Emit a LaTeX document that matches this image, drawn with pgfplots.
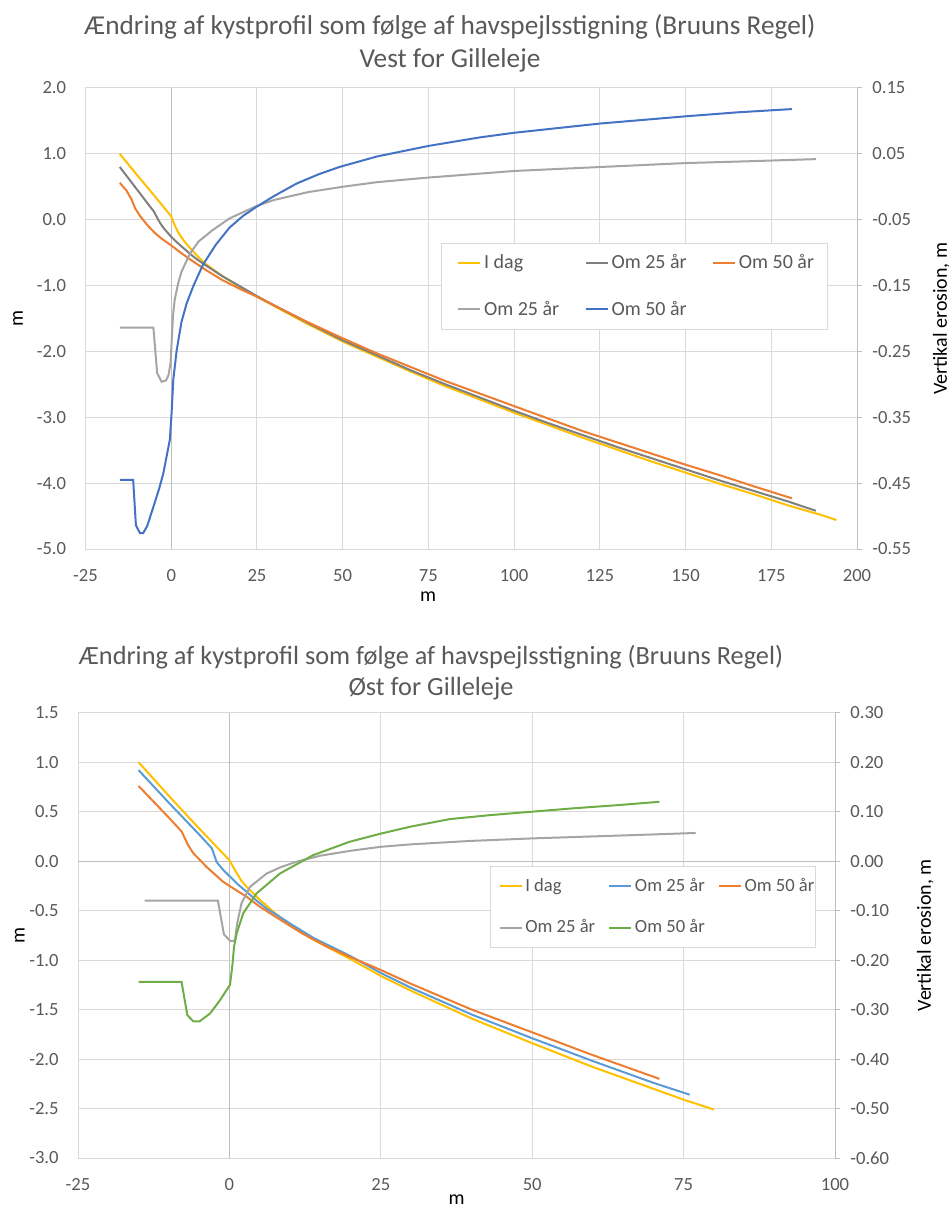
\documentclass[border=0pt]{standalone}
\usepackage{pgfplots}
\pgfplotsset{compat=1.18}
\usepackage{fontspec}
\setmainfont{Carlito}
\definecolor{cyellow}{HTML}{FFC000}
\definecolor{cdgray}{HTML}{7F7F7F}
\definecolor{corange}{HTML}{ED7D31}
\definecolor{clgray}{HTML}{A5A5A5}
\definecolor{cblue}{HTML}{4472C4}
\definecolor{clblue}{HTML}{5B9BD5}
\definecolor{cgreen}{HTML}{70AD47}
\definecolor{ctext}{HTML}{595959}
\definecolor{cgrid}{HTML}{D9D9D9}
\definecolor{caxis}{HTML}{BFBFBF}
\pgfplotsset{
  base/.style={scale only axis, axis line style={draw=none}, major tick length=0pt,
    tick label style={text=ctext, inner sep=0pt},
    label style={text=ctext},
    every axis plot/.append style={line width=1pt, mark=none},
    legend image code/.code={\draw[##1] (0pt,0pt) -- (11pt,0pt);},
  },
  leftax/.style={base, grid=major, major grid style={draw=cgrid, line width=0.5pt},
    yticklabel style={anchor=east, xshift=-9.5pt},
    xticklabel style={anchor=north, yshift=-10pt},
  },
  rightax/.style={base, grid=none, axis y line*=right, axis x line=none, xtick=\empty,
    y axis line style={draw=caxis, line width=0.5pt},
    ytick style={draw=caxis, line width=0.5pt}, tick align=outside, major tick length=2.5pt,
    yticklabel style={anchor=west, xshift=5pt},
  },
}
\begin{document}
\begin{tikzpicture}
\useasboundingbox (0,0) rectangle (475.5pt,-604pt);
% ---------------- Chart 1 -----------------
\node[text=ctext, align=center, font=\fontsize{13.65}{16.5}\selectfont] at (225pt,-21.75pt)
  {Ændring af kystprofil som følge af havspejlsstigning (Bruuns Regel)\\Vest for Gilleleje};
\begin{axis}[leftax, at={(42.75pt,-274.5pt)}, anchor=south west,
  width=385.75pt, height=230.5pt,
  xmin=-25, xmax=200, ymin=-5, ymax=2,
  xtick={-25,0,25,50,75,100,125,150,175,200}, ytick={-5,-4,-3,-2,-1,0,1,2},
  yticklabels={-5.0,-4.0,-3.0,-2.0,-1.0,0.0,1.0,2.0},
  xticklabels={-25,0,25,50,75,100,125,150,175,200},
  tick label style={font=\fontsize{9.3}{11}\selectfont},
  xlabel={m}, ylabel={m},
  label style={font=\fontsize{10}{12}\selectfont},
  every axis x label/.style={at={(axis description cs:0.444,-0.104)}, anchor=center},
  every axis y label/.style={at={(axis description cs:-0.0875,0.5)}, rotate=90, anchor=center},
]
\draw[caxis, line width=0.5pt] (axis cs:0,-5) -- (axis cs:0,2);
\addplot[cyellow] coordinates {(-15,1.00)(-10,0.68)(-5,0.37)(0,0.05)(1,-0.08)(2,-0.19)(3,-0.27)(4,-0.34)(6,-0.46)(8,-0.57)(10,-0.67)(15,-0.86)(20,-1.02)(25,-1.17)(30,-1.31)(40,-1.59)(50,-1.85)(60,-2.08)(70,-2.31)(80,-2.53)(90,-2.73)(100,-2.93)(110,-3.12)(120,-3.31)(130,-3.49)(140,-3.67)(150,-3.84)(160,-4.01)(170,-4.17)(180,-4.34)(190,-4.49)(194,-4.56)};
\addplot[cdgray] coordinates {(-15,0.80)(-10,0.46)(-5,0.12)(-4,0.02)(-3,-0.07)(-2,-0.14)(-1,-0.20)(0,-0.26)(2,-0.36)(4,-0.45)(6,-0.54)(8,-0.62)(10,-0.69)(15,-0.86)(20,-1.01)(25,-1.16)(30,-1.30)(40,-1.57)(50,-1.83)(60,-2.06)(70,-2.29)(80,-2.50)(90,-2.70)(100,-2.90)(110,-3.09)(120,-3.27)(130,-3.45)(140,-3.62)(150,-3.79)(160,-3.96)(170,-4.12)(180,-4.28)(188,-4.42)};
\addplot[corange] coordinates {(-15,0.56)(-13,0.44)(-11.5,0.30)(-10.5,0.17)(-9,0.05)(-7,-0.08)(-5,-0.19)(-3,-0.28)(0,-0.39)(3,-0.51)(6,-0.62)(10,-0.76)(15,-0.92)(20,-1.05)(25,-1.17)(30,-1.30)(40,-1.56)(50,-1.80)(60,-2.03)(70,-2.24)(80,-2.45)(90,-2.64)(100,-2.83)(110,-3.02)(120,-3.21)(130,-3.38)(140,-3.55)(150,-3.72)(160,-3.88)(170,-4.05)(181,-4.23)};
\end{axis}
\begin{axis}[rightax, at={(42.75pt,-274.5pt)}, anchor=south west,
  width=385.75pt, height=230.5pt,
  xmin=-25, xmax=200, ymin=-0.55, ymax=0.15,
  ytick={-0.55,-0.45,-0.35,-0.25,-0.15,-0.05,0.05,0.15},
  yticklabels={-0.55,-0.45,-0.35,-0.25,-0.15,-0.05,0.05,0.15},
  tick label style={font=\fontsize{9.3}{11}\selectfont},
  ylabel={Vertikal erosion, m},
  label style={font=\fontsize{10}{12}\selectfont},
  every axis y label/.style={at={(axis description cs:1.109,0.5)}, rotate=90, anchor=center},
  legend style={at={(axis description cs:0.4608,0.6644)}, anchor=north west,
    draw=cgrid, fill=white, text=ctext, font=\fontsize{10}{12}\selectfont,
    inner xsep=7.85pt, inner ysep=5.8pt, row sep=14.5pt,
    nodes={inner sep=0pt},
    /tikz/every odd column/.style={column sep=1.5pt},
    /tikz/every even column/.style={column sep=0pt}},
  legend columns=3, legend cell align=left,
]
\addlegendimage{cyellow, line width=1pt}
\addlegendentry{\makebox[50.2pt][l]{I dag}}
\addlegendimage{cdgray, line width=1pt}
\addlegendentry{\makebox[50.2pt][l]{Om 25 år}}
\addlegendimage{corange, line width=1pt}
\addlegendentry{\makebox[36.5pt][l]{Om 50 år}}
\addplot[clgray] coordinates {(-15,-0.214)(-5.2,-0.214)(-4.1,-0.283)(-2.8,-0.296)(-1.5,-0.294)(-0.8,-0.286)(-0.2,-0.268)(0.5,-0.197)(1,-0.172)(2,-0.147)(3,-0.129)(5.5,-0.101)(8,-0.083)(12,-0.066)(17,-0.048)(25,-0.029)(30,-0.020)(40,-0.008)(50,0.000)(60,0.007)(75,0.014)(100,0.024)(125,0.030)(150,0.036)(170,0.039)(188,0.042)};
\addlegendentry{\makebox[50.2pt][l]{Om 25 år}}
\addplot[cblue] coordinates {(-15,-0.445)(-11.1,-0.445)(-10.3,-0.514)(-9.1,-0.526)(-8.2,-0.526)(-7,-0.515)(-5.2,-0.486)(-3.5,-0.458)(-2.3,-0.435)(-0.4,-0.384)(0.1,-0.344)(0.6,-0.293)(1.6,-0.248)(3,-0.205)(4.5,-0.177)(6.5,-0.150)(9.3,-0.118)(13,-0.088)(17,-0.062)(21,-0.044)(25,-0.030)(30,-0.014)(36.6,0.005)(43,0.019)(49,0.030)(60,0.046)(75,0.062)(90,0.075)(100,0.082)(125,0.096)(150,0.107)(165,0.113)(181,0.118)};
\addlegendentry{\makebox[50.2pt][l]{Om 50 år}}
\end{axis}
% ---------------- Chart 2 -----------------
\node[text=ctext, align=center, font=\fontsize{13.15}{15.5}\selectfont] at (215.5pt,-336.25pt)
  {Ændring af kystprofil som følge af havspejlsstigning (Bruuns Regel)\\Øst for Gilleleje};
\begin{axis}[leftax, at={(39pt,-579pt)}, anchor=south west,
  width=378.5pt, height=222.65pt,
  xmin=-25, xmax=100, ymin=-3, ymax=1.5,
  xtick={-25,0,25,50,75,100}, ytick={-3,-2.5,-2,-1.5,-1,-0.5,0,0.5,1,1.5},
  yticklabels={-3.0,-2.5,-2.0,-1.5,-1.0,-0.5,0.0,0.5,1.0,1.5},
  xticklabels={-25,0,25,50,75,100},
  tick label style={font=\fontsize{9.3}{11}\selectfont},
  xlabel={m}, ylabel={m},
  label style={font=\fontsize{9.6}{12}\selectfont},
  every axis x label/.style={at={(axis description cs:0.5,-0.094)}, anchor=center},
  every axis y label/.style={at={(axis description cs:-0.077,0.5)}, rotate=90, anchor=center},
]
\draw[caxis, line width=0.5pt] (axis cs:0,-3) -- (axis cs:0,1.5);
\draw[caxis, line width=0.5pt] (axis cs:-25,0) -- (axis cs:100,0);
\addplot[cyellow] coordinates {(-15,1.00)(-10,0.66)(-5,0.33)(0,0.01)(1,-0.10)(2,-0.20)(3,-0.27)(5,-0.39)(8,-0.55)(10,-0.64)(14,-0.80)(20,-0.99)(25,-1.16)(30,-1.31)(40,-1.59)(50,-1.84)(60,-2.08)(70,-2.30)(75,-2.41)(80,-2.51)};
\addplot[clblue] coordinates {(-15,0.92)(-10,0.59)(-5,0.27)(-2.9,0.13)(-2.1,-0.01)(-1,-0.09)(0,-0.15)(1.5,-0.24)(2.85,-0.31)(4.5,-0.40)(6.15,-0.48)(8,-0.55)(10,-0.63)(14,-0.78)(20,-0.96)(25,-1.13)(30,-1.28)(40,-1.55)(50,-1.79)(60,-2.02)(70,-2.24)(76,-2.36)};
\addplot[corange] coordinates {(-15,0.76)(-10,0.44)(-7.9,0.30)(-6.8,0.16)(-5.95,0.08)(-3.75,-0.06)(-1,-0.21)(0,-0.25)(2.85,-0.36)(5,-0.46)(8.35,-0.59)(12,-0.73)(16,-0.86)(20,-0.97)(25,-1.10)(30,-1.24)(40,-1.50)(50,-1.73)(60,-1.96)(71,-2.20)};
\end{axis}
\begin{axis}[rightax, at={(39pt,-579pt)}, anchor=south west,
  width=378.5pt, height=222.65pt,
  xmin=-25, xmax=100, ymin=-0.6, ymax=0.3,
  ytick={-0.6,-0.5,-0.4,-0.3,-0.2,-0.1,0,0.1,0.2,0.3},
  yticklabels={-0.60,-0.50,-0.40,-0.30,-0.20,-0.10,0.00,0.10,0.20,0.30},
  tick label style={font=\fontsize{9.3}{11}\selectfont},
  ylabel={Vertikal erosion, m},
  label style={font=\fontsize{9.6}{12}\selectfont},
  every axis y label/.style={at={(axis description cs:1.119,0.5)}, rotate=90, anchor=center},
  legend style={at={(axis description cs:0.5443,0.6557)}, anchor=north west,
    draw=cgrid, fill=white, text=ctext, font=\fontsize{9.3}{11}\selectfont,
    inner xsep=4.15pt, inner ysep=5.8pt, row sep=12.8pt,
    nodes={inner sep=0pt},
    /tikz/every odd column/.style={column sep=1.3pt},
    /tikz/every even column/.style={column sep=0pt}},
  legend columns=3, legend cell align=left,
]
\addlegendimage{cyellow, line width=1pt}
\addlegendentry{\makebox[41.5pt][l]{I dag}}
\addlegendimage{clblue, line width=1pt}
\addlegendentry{\makebox[41.5pt][l]{Om 25 år}}
\addlegendimage{corange, line width=1pt}
\addlegendentry{\makebox[31.3pt][l]{Om 50 år}}
\addplot[clgray] coordinates {(-14,-0.080)(-1.9,-0.080)(-0.9,-0.148)(0.1,-0.161)(0.9,-0.161)(1.3,-0.125)(2.0,-0.085)(3.4,-0.052)(6.15,-0.025)(8.5,-0.012)(11.1,-0.001)(15,0.011)(20,0.021)(25,0.029)(30,0.034)(40,0.041)(50,0.046)(60,0.050)(70,0.054)(77,0.057)};
\addlegendentry{\makebox[41.5pt][l]{Om 25 år}}
\addplot[cgreen] coordinates {(-15,-0.244)(-7.9,-0.244)(-6.95,-0.311)(-5.95,-0.324)(-4.95,-0.324)(-3.2,-0.308)(-1.55,-0.281)(0.1,-0.250)(0.5,-0.21)(0.76,-0.173)(1.2,-0.146)(2.3,-0.105)(4.5,-0.065)(8.35,-0.025)(13.8,0.012)(19.8,0.039)(25.1,0.056)(30,0.070)(36.4,0.085)(43,0.093)(50,0.100)(57,0.107)(63.9,0.113)(71,0.120)};
\addlegendentry{\makebox[41.5pt][l]{Om 50 år}}
\end{axis}
\end{tikzpicture}
\end{document}
